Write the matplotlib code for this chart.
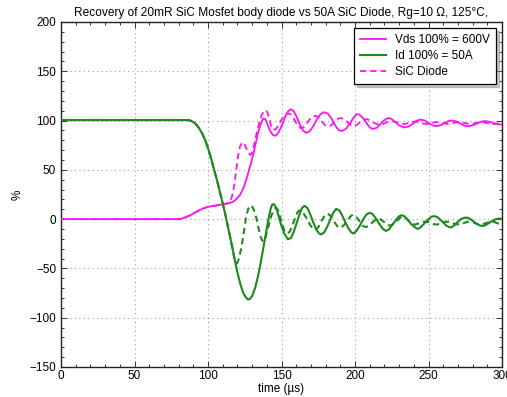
import matplotlib
matplotlib.use("Agg")
import matplotlib.pyplot as plt
from matplotlib.ticker import MultipleLocator

plt.rcParams["font.family"] = ["Liberation Sans", "DejaVu Sans"]

# Id, SiC Mosfet body diode (% of 50 A)
t_id = [0, 86, 88, 90, 92, 94, 96, 98, 100, 102, 104, 106, 108, 110, 112, 114, 116,
        118, 120, 122, 124, 126, 127.2, 128.5, 130, 132, 134, 136, 138, 140, 141.5,
        142.7, 143.7, 145, 146.5, 148, 150, 152, 154.3, 156.5, 158.5, 160.5, 162.5,
        164, 165.6, 167.5, 169.5, 171.5, 173.5, 175.5, 177, 179, 181, 183, 185, 187.2,
        189.5, 191.5, 193.5, 195.5, 197.5, 199, 201, 203.5, 206, 208, 210, 212, 214.5,
        217, 219, 221, 223, 225.5, 228, 230, 231.5, 233.5, 236, 238.5, 241, 242.6,
        244.5, 247, 250, 252, 254, 256, 259, 262, 264.5, 266.5, 269, 272, 274.5, 276.5,
        279, 282, 285, 287, 289.5, 292, 295, 297.5, 300]
id_mos = [100.5, 100.5, 100, 98.5, 96, 92, 87, 80.5, 72, 62, 51, 40, 28, 16, 3, -11, -25,
          -40, -54, -66, -75, -80, -81.5, -81, -78, -70, -58, -43, -26, -9, 3,
          11, 15, 15, 11, 3, -7, -15, -20.5, -19, -12, -3, 6,
          11.5, 13.5, 11.5, 5, -3, -10, -14.5, -15.5, -13.5, -8, -1, 6, 10.5,
          8.5, 3, -3.5, -9.5, -13.5, -14.5, -12, -6, 1, 5, 6.5, 5, 0,
          -6, -10, -12, -10.5, -5.5, -0.5, 3, 4, 3, -1, -5.5, -8.5, -10,
          -8.5, -4.5, 0, 2.5, 3, 2, -2, -6.5, -8.5, -7.5, -4, 0, 1.5, 1.5,
          -0.5, -4, -6.5, -7, -5.5, -3, -0.5, 0.5, 0.5]

# Id, SiC diode
t_id_d = [0, 86, 88, 90, 92, 94, 96, 98, 100, 102, 104, 106, 108, 110, 112, 114, 116,
          118, 119.7, 121, 122.7, 124.5, 126, 127.5, 129.5, 131, 132.9, 134.5, 136,
          137.4, 139, 141, 143, 144.8, 146.4, 148, 150, 152, 153.5, 155.5, 157.5,
          159.5, 161, 162.5, 164.5, 167, 169.5, 171.5, 173.5, 175.5, 177.5, 179.5,
          181.5, 183.5, 186, 188.3, 190.5, 192.5, 195, 197, 198.5, 200.5, 203, 205.5,
          207.5, 209.5, 212, 214.5, 216.5, 219, 222, 224, 226.5, 229, 231.5, 233.5,
          236, 239, 241, 244, 247, 250, 253, 256, 259, 262, 265, 268, 271, 274, 277,
          280, 283, 286, 289, 292, 295, 298, 300]
id_diode = [100.5, 100.5, 100, 98.5, 96, 92, 87, 80.5, 72, 62, 51, 40, 28, 16, 3, -11, -25,
            -40, -45, -40, -29, -12, 3, 11, 14, 10, 1, -10, -19,
            -23, -19, -8, 3, 10, 11.5, 8, -3, -12, -14.5, -13, -6,
            2, 7.5, 9, 7, 1, -6, -10, -10.5, -7, -1, 4,
            5.5, 3, -3, -8, -8.5, -6, -1, 3, 4.5, 3, -2, -7,
            -8, -7, -3, 0, 0.5, -2, -6, -6.5, -4.5, -1, 2.5, 2.5,
            -1, -5, -5.5, -4, -2.5, -3, -5, -5.5, -4, -2.5, -3, -5, -5.5, -4, -2.5,
            -3, -5, -5.5, -4, -2.5, -3, -5, -5]

# Vds, SiC Mosfet body diode (% of 600 V)
t_vds = [0, 80, 82, 85, 88, 91, 94, 97, 100, 104, 108, 112, 115, 117, 119, 121.5, 124,
         126, 128.3, 130.5, 132.3, 134, 135.7, 137.4, 139, 140.5, 142, 144, 145.9,
         148, 150.5, 152.5, 154.5, 156.6, 158.5, 160.5, 162.5, 164.5, 166.8, 169,
         171.5, 174, 176.5, 179, 181.5, 184, 186.5, 189, 191.5, 194, 196.5, 199, 201,
         203, 205.5, 208, 210, 212, 214.5, 217, 219.5, 222.2, 224.5, 227, 230, 233.5,
         236.5, 239.5, 242, 244.8, 247.5, 250.5, 253, 255.5, 258.5, 261, 263.5, 266.3,
         269, 272, 275, 277.7, 280.5, 283.5, 286.5, 289, 292, 295, 298, 300]
vds_mos = [0, 0, 0.5, 2, 4, 6.5, 9, 11, 12.5, 13.5, 14.5, 15.5, 16.5, 17.5, 20, 24, 31,
           40, 52, 64, 76, 87.5, 96, 102, 101.5, 96, 90, 85.5, 84.5,
           88, 96, 104, 109.5, 111.5, 109, 103, 96, 90, 87.5, 89,
           94, 101, 106.5, 108.5, 107, 102, 95, 90, 89.5, 92, 97, 103, 106.5,
           106, 102.5, 97, 93, 91.5, 92.5, 96, 100, 102.5, 102, 99, 95, 93,
           94, 97, 100, 101, 100, 97, 95, 94.3, 95.5, 97.5, 99.5, 100,
           99, 96.5, 94.5, 94.3, 95.5, 97.5, 99.2, 99.4, 98.5, 97, 96, 96]

# Vds, SiC diode
t_vds_d = [0, 80, 82, 85, 88, 91, 94, 97, 100, 104, 108, 112, 114.7, 116.5, 118, 119.2,
           120.4, 121.8, 123.3, 124.7, 126, 127.5, 129, 130.5, 132, 133.5, 135, 136.5,
           138, 139.2, 140.5, 142, 143.2, 144.1, 146, 148, 150, 152, 154.3, 156.5,
           158.5, 160.5, 162.5, 164.5, 166.5, 168.5, 170.5, 172.8, 175, 177, 179, 181,
           183, 185, 187, 189.5, 192, 194.5, 197, 199, 201, 203.5, 206, 208, 210.5, 213,
           216, 219, 222, 225, 228, 231, 234, 237, 240, 243, 246, 249, 252, 255, 258,
           261, 264, 267, 270, 273, 276, 279, 282, 285, 288, 291, 294, 297, 300]
vds_diode = [0, 0, 0.5, 2, 4, 6.5, 9, 11, 12.5, 13.5, 14.5, 15.5, 16.5, 24, 36, 50,
             64, 74, 78, 76.5, 72, 67, 65, 70, 80, 90, 99, 105.5,
             109.5, 110.5, 108, 100, 93, 91, 91, 95, 101, 105.5, 107.5, 106,
             101.5, 96, 92.5, 92.5, 95.5, 100, 103.5, 105, 103.5, 100, 96, 94,
             94.5, 97, 100.5, 102.5, 102, 99, 95.5, 94.5, 95.5, 98.5, 101, 101.5, 100, 97.5,
             96, 96.5, 98.5, 99.5, 98.5, 97, 96.5, 98, 99, 98.5, 97, 96.5, 97.5, 98.5, 98,
             97, 96.5, 97.5, 98.5, 98, 97, 96.5, 97.5, 98.5, 98, 97, 96.5, 97, 97]

magenta = "#ff14f0"
green = "#1c8a1c"

fig = plt.figure(figsize=(5.07, 3.97), dpi=100)
ax = fig.add_axes([0.1203, 0.0756, 0.870, 0.869])

ax.plot(t_vds, vds_mos, color=magenta, lw=1.3, label="Vds 100% = 600V", zorder=3)
ax.plot(t_id, id_mos, color=green, lw=1.5, label="Id 100% = 50A", zorder=3)
ax.plot(t_vds_d, vds_diode, color=magenta, lw=1.3, dashes=(3.5, 2.2),
        label="SiC Diode", zorder=3)
ax.plot(t_id_d, id_diode, color=green, lw=1.5, dashes=(3.0, 2.0), zorder=3)

ax.set_xlim(0, 300)
ax.set_ylim(-150, 200)
ax.xaxis.set_major_locator(MultipleLocator(50))
ax.xaxis.set_minor_locator(MultipleLocator(10))
ax.yaxis.set_major_locator(MultipleLocator(50))
ax.yaxis.set_minor_locator(MultipleLocator(10))
ax.tick_params(which="both", direction="in", top=True, right=True, labelsize=8.5,
               width=0.7, color="#333333")
ax.tick_params(which="major", length=4.5)
ax.tick_params(which="minor", length=2.2)
ax.tick_params(axis="x", pad=2)
for s in ax.spines.values():
    s.set_linewidth(1.0)
    s.set_color("#222222")
ax.grid(True, which="major", linestyle=(0, (1, 3)), color="#a0a0a0", lw=0.8)

ax.set_title("Recovery of 20mR SiC Mosfet body diode vs 50A SiC Diode, Rg=10 \u03a9, 125\u00b0C,",
             fontsize=8.6, pad=4)
ax.set_xlabel("time (\u00b5s)", fontsize=8.5, labelpad=1)
ax.set_ylabel("%", fontsize=8.5, labelpad=4)

leg = ax.legend(loc="upper right", fontsize=8.5, fancybox=False,
                shadow={"color": "0.55", "alpha": 0.5},
                framealpha=1, edgecolor="black", handlelength=2.2,
                borderaxespad=0.5, borderpad=0.5, labelspacing=0.35)
leg.get_frame().set_linewidth(0.9)

fig.savefig("out.png", dpi=100)
